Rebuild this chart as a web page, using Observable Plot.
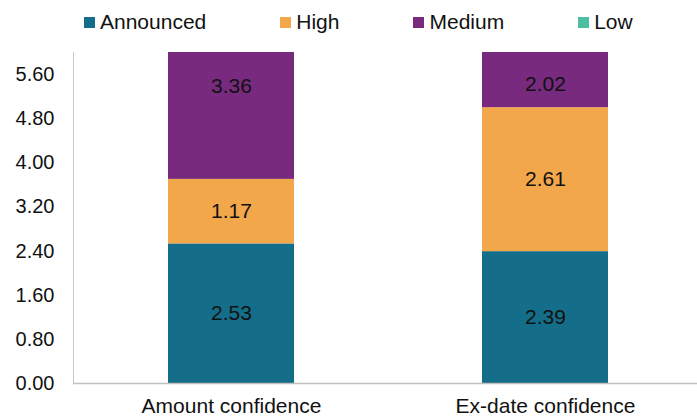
<!DOCTYPE html>
<html>
<head>
<meta charset="utf-8">
<script src="https://cdn.jsdelivr.net/npm/d3@7"></script>
<script src="https://cdn.jsdelivr.net/npm/@observablehq/plot@0.6"></script>
<style>
  html, body { margin: 0; padding: 0; background: #fff; }
  body { width: 697px; height: 417px; overflow: hidden; font-family: "Liberation Sans", Arial, sans-serif; }
  #legend { height: 44px; display: flex; align-items: center; padding-left: 84px; box-sizing: border-box; }
  .item { display: flex; align-items: center; margin-right: 74px; font-size: 21px; color: #111; }
  .sw { width: 11px; height: 11px; margin-right: 5px; }
  svg { display: block; }
</style>
</head>
<body>
<div id="legend"></div>
<div id="chart"></div>
<script>
const categories = ["Amount confidence", "Ex-date confidence"];
const seriesNames = ["Announced", "High", "Medium", "Low"];
const announced = [2.53, 2.39];
const high = [1.17, 2.61];
const medium = [3.36, 2.02];
const low = [0, 0];
const yTicks = [0, 0.8, 1.6, 2.4, 3.2, 4.0, 4.8, 5.6];
const yMax = 6.0;
const colors = ["#146E89", "#F1A74A", "#772A7E", "#4CBFA1"];

const seriesValues = [announced, high, medium, low];
const table = [];
categories.forEach((c, i) => {
  let base = 0;
  seriesNames.forEach((s, j) => {
    const v = seriesValues[j][i];
    const mid = Math.min(base + v / 2, yMax - 0.58);
    table.push({category: c, series: s, value: v, mid});
    base += v;
  });
});

// legend
const legend = document.getElementById("legend");
seriesNames.forEach((s, j) => {
  const it = document.createElement("div");
  it.className = "item";
  const sw = document.createElement("div");
  sw.className = "sw";
  sw.style.background = colors[j];
  const t = document.createElement("span");
  t.textContent = s;
  it.appendChild(sw); it.appendChild(t);
  legend.appendChild(it);
});

const plot = Plot.plot({
  width: 697,
  height: 373,
  marginTop: 8,
  marginBottom: 34,
  marginLeft: 73,
  marginRight: 0,
  style: {fontFamily: "'Liberation Sans', Arial, sans-serif", fontSize: "20px", color: "#111", background: "#fff"},
  x: {domain: categories, range: [73, 702], paddingInner: 0.6, paddingOuter: 0.3, label: null},
  y: {domain: [0, yMax], label: null},
  color: {domain: seriesNames, range: colors},
  marks: [
    Plot.barY(table, {x: "category", y: "value", fill: "series", order: seriesNames, clip: true}),
    Plot.text(table.filter(d => d.value > 0), {x: "category", y: "mid", text: d => d.value.toFixed(2), fontSize: 21, fill: "#111"}),
    Plot.frame({anchor: "left", stroke: "#c8c8c8"}),
    Plot.ruleY([0], {stroke: "#bfbfbf", strokeWidth: 1.5}),
    Plot.axisY({ticks: yTicks, tickFormat: d3.format(".2f"), tickSize: 0, tickPadding: 19, fontSize: 20, label: null}),
    Plot.axisX({tickSize: 0, tickPadding: 15, fontSize: 21, label: null})
  ]
});
document.getElementById("chart").appendChild(plot);
</script>
</body>
</html>
